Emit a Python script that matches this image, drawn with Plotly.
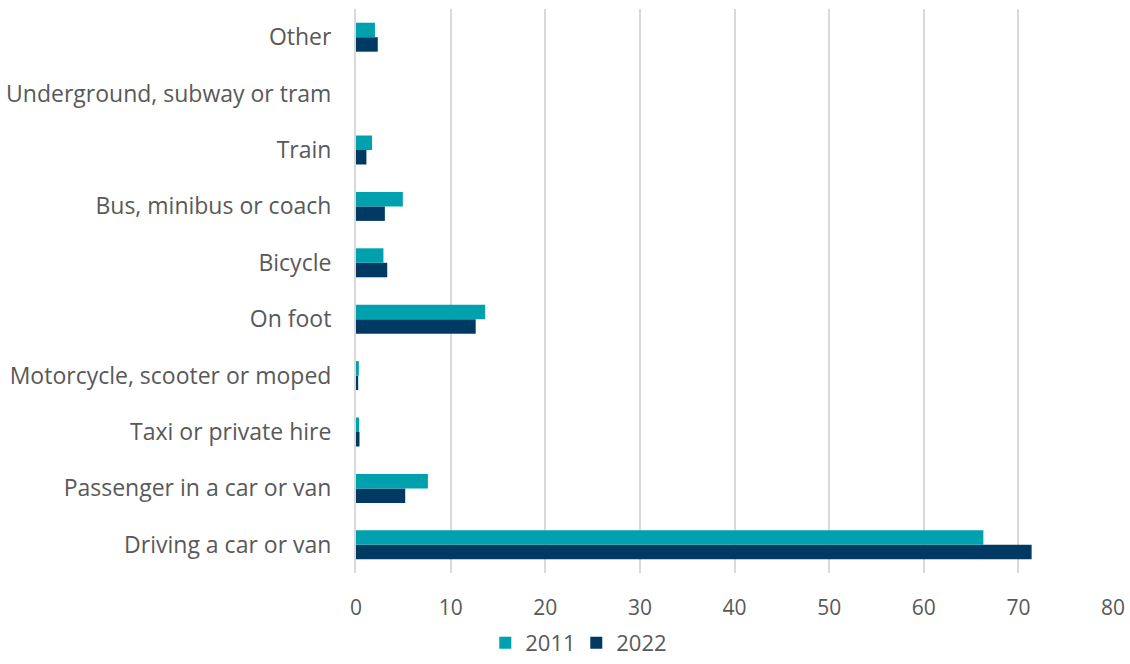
import plotly.graph_objects as go

# Share of commuters by main mode of travel (%), 2011 vs 2022
modes = [
    "Driving a car or van",
    "Passenger in a car or van",
    "Taxi or private hire",
    "Motorcycle, scooter or moped",
    "On foot",
    "Bicycle",
    "Bus, minibus or coach",
    "Train",
    "Underground, subway or tram",
    "Other",
]
share_2011 = [66.3, 7.6, 0.33, 0.3, 13.65, 2.9, 4.95, 1.7, 0.0, 2.0]
share_2022 = [71.4, 5.2, 0.37, 0.23, 12.65, 3.3, 3.05, 1.1, 0.0, 2.3]
x_ticks = [0, 10, 20, 30, 40, 50, 60, 70, 80]

color_2011 = "#00A1AF"
color_2022 = "#003A63"
text_color = "#595959"

fig = go.Figure()
# 2022 added first so it sits below 2011 within each group
fig.add_trace(go.Bar(
    y=modes, x=share_2022, name="2022", orientation="h",
    marker=dict(color=color_2022, line=dict(width=0)), legendrank=2,
))
fig.add_trace(go.Bar(
    y=modes, x=share_2011, name="2011", orientation="h",
    marker=dict(color=color_2011, line=dict(width=0)), legendrank=1,
))

fig.update_layout(
    width=1130, height=664,
    margin=dict(l=356, r=17, t=9, b=91, autoexpand=False),
    paper_bgcolor="white", plot_bgcolor="white",
    barmode="group", bargap=0.486, bargroupgap=0,
    font=dict(family="Open Sans", color=text_color, size=22),
    xaxis=dict(
        range=[0, 80], tickvals=x_ticks, showgrid=True,
        gridcolor="#d9d9d9", gridwidth=1.5, zeroline=False,
        showline=False, ticks="", ticklabelstandoff=20,
        tickfont=dict(size=21, color=text_color),
    ),
    yaxis=dict(
        categoryorder="array", categoryarray=modes,
        showgrid=False, zeroline=False, showline=True,
        linecolor="#d9d9d9", linewidth=2, ticks="",
        ticklabelstandoff=18,
        tickfont=dict(size=23, color=text_color),
    ),
    legend=dict(
        orientation="h", x=0.291, xanchor="center",
        yref="container", y=-0.008, yanchor="bottom",
        font=dict(size=22, color=text_color), itemwidth=30,
        entrywidth=46, entrywidthmode="pixels",
        traceorder="normal",
    ),
)

fig.write_html("out.html")
